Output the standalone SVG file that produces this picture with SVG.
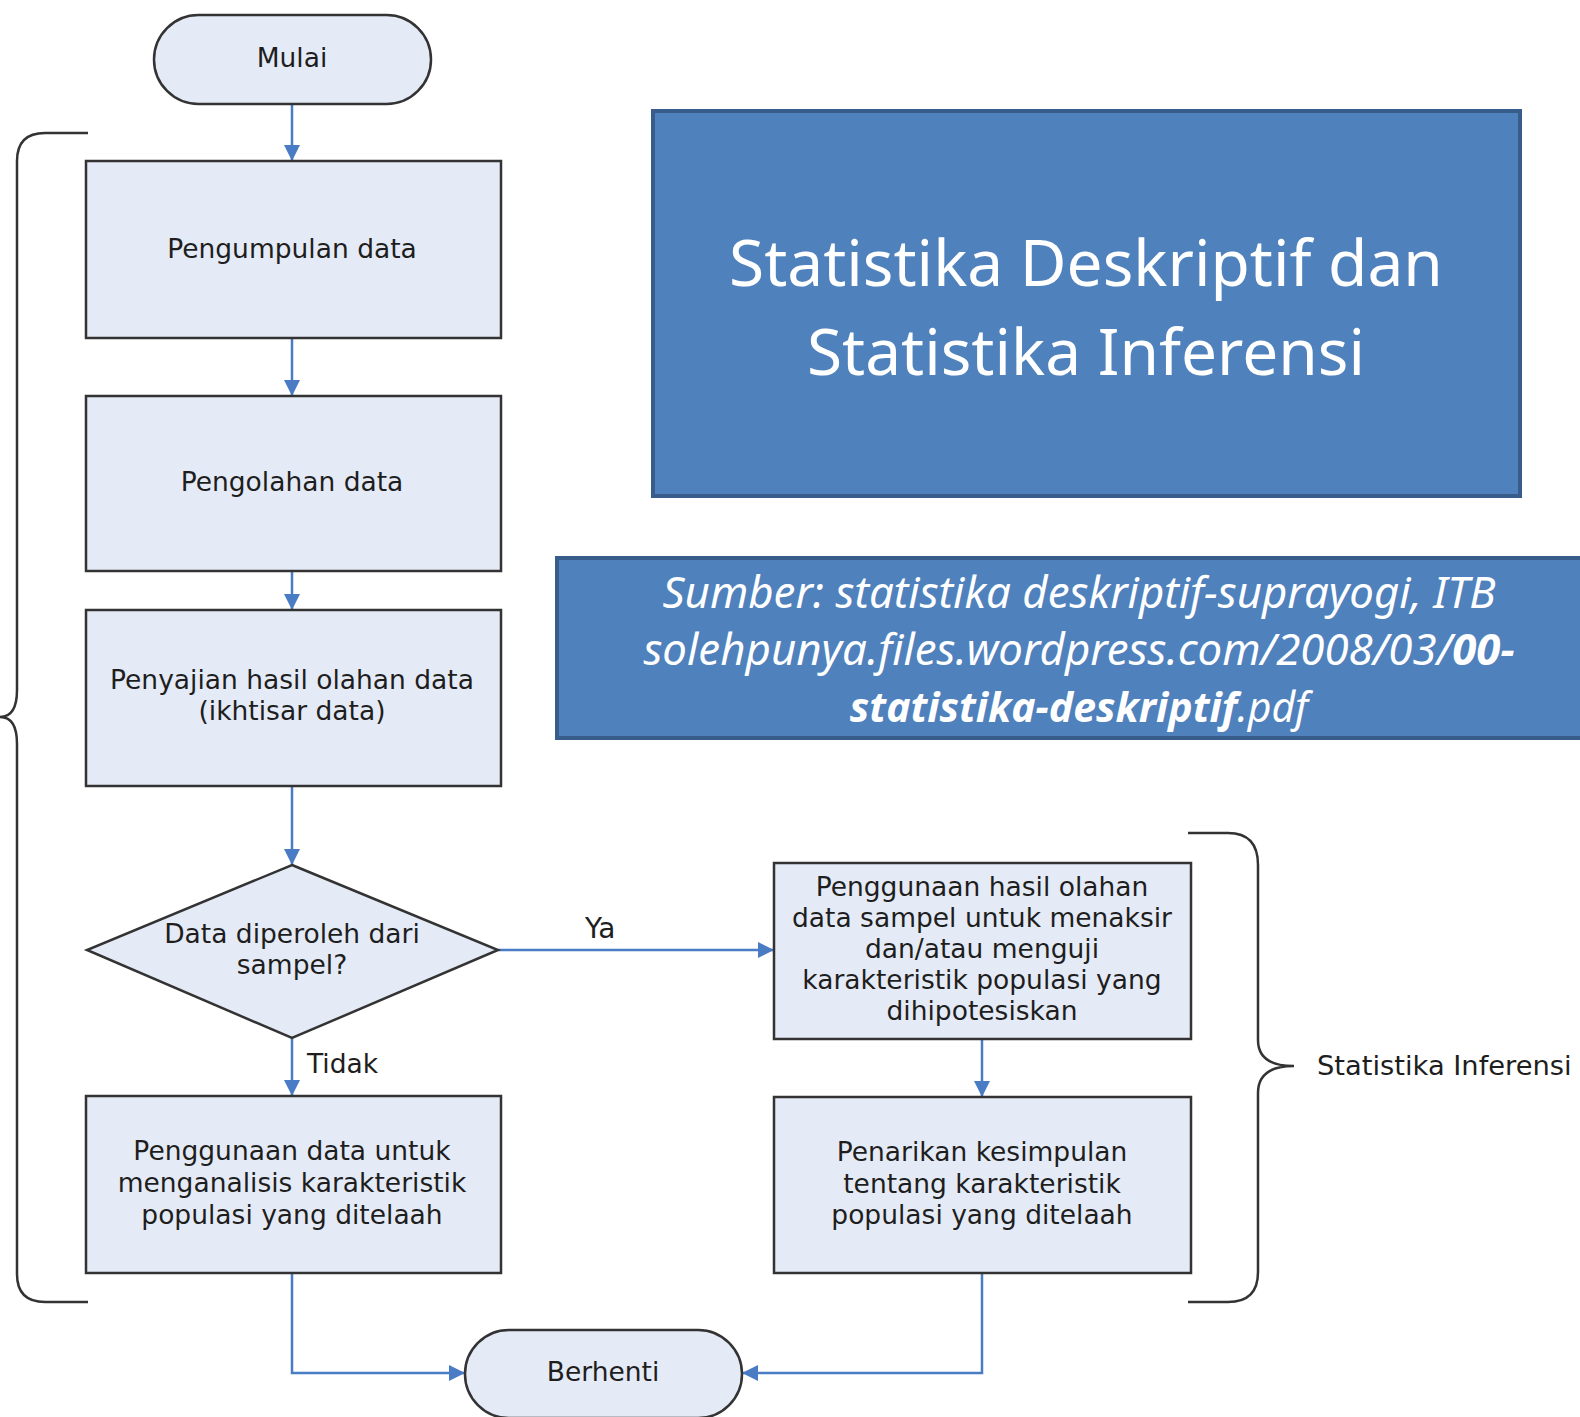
<svg xmlns="http://www.w3.org/2000/svg" width="1580" height="1417" viewBox="0 0 1580 1417">
<style>
.node{fill:#E5EBF6;stroke:#333;stroke-width:2.5}
.t{font-family:"DejaVu Sans",Verdana,sans-serif;font-size:26.5px;fill:#1e1e1e;text-anchor:middle}
.lbl{font-family:"DejaVu Sans",Verdana,sans-serif;font-size:26.5px;fill:#1e1e1e}
.conn{fill:none;stroke:#4A7CC6;stroke-width:2.5}
.brace{fill:none;stroke:#333;stroke-width:2.5}
.blue{fill:#4F81BD;stroke:#385D8A;stroke-width:4}
.title{font-family:"Noto Sans","Open Sans",sans-serif;font-size:64px;fill:#fff;text-anchor:middle}
.src{font-family:"Noto Sans","Open Sans",sans-serif;font-size:43.8px;font-style:italic;fill:#fff;text-anchor:middle}
</style>
<defs>
<marker id="arr" markerUnits="userSpaceOnUse" markerWidth="17" markerHeight="17" refX="16" refY="8" orient="auto">
<path d="M0,0 L16,8 L0,16 z" fill="#4A7CC6"/>
</marker>
</defs>
<rect width="1580" height="1417" fill="#fff"/>

<g id="braces">
<path class="brace" d="M88 133 H45 Q17 133 17 161 V690 Q17 717 0 717 Q17 717 17 744 V1274 Q17 1302 45 1302 H88"/>
<path class="brace" d="M1188 833 H1228 Q1258 833 1258 865 V1040 Q1258 1066 1294 1066 Q1258 1066 1258 1093 V1272 Q1258 1302 1228 1302 H1188"/>
</g>

<g id="connectors">
<line class="conn" x1="292" y1="104" x2="292" y2="161" marker-end="url(#arr)"/>
<line class="conn" x1="292" y1="338" x2="292" y2="396" marker-end="url(#arr)"/>
<line class="conn" x1="292" y1="571" x2="292" y2="610" marker-end="url(#arr)"/>
<line class="conn" x1="292" y1="786" x2="292" y2="865" marker-end="url(#arr)"/>
<line class="conn" x1="292" y1="1038" x2="292" y2="1096" marker-end="url(#arr)"/>
<line class="conn" x1="498" y1="950" x2="774" y2="950" marker-end="url(#arr)"/>
<line class="conn" x1="982" y1="1039" x2="982" y2="1097" marker-end="url(#arr)"/>
<path class="conn" d="M292 1273 V1373 H465" marker-end="url(#arr)"/>
<path class="conn" d="M982 1273 V1373 H742" marker-end="url(#arr)"/>
<text class="lbl" x="585" y="938" style="font-size:28px">Ya</text>
<text class="lbl" x="307" y="1073">Tidak</text>
</g>

<g id="mulai">
<rect class="node" x="154" y="15" width="277" height="89" rx="44.5"/>
<text class="t" x="292" y="67">Mulai</text>
</g>
<g id="pengumpulan">
<rect class="node" x="86" y="161" width="415" height="177"/>
<text class="t" x="292" y="258">Pengumpulan data</text>
</g>
<g id="pengolahan">
<rect class="node" x="86" y="396" width="415" height="175"/>
<text class="t" x="292" y="491">Pengolahan data</text>
</g>
<g id="penyajian">
<rect class="node" x="86" y="610" width="415" height="176"/>
<text class="t" x="292" y="689">Penyajian hasil olahan data</text>
<text class="t" x="292" y="720">(ikhtisar data)</text>
</g>
<g id="keputusan">
<polygon class="node" points="292,865 498,950 292,1038 87,950"/>
<text class="t" x="292" y="943">Data diperoleh dari</text>
<text class="t" x="292" y="974">sampel?</text>
</g>
<g id="deskriptif-analisis">
<rect class="node" x="86" y="1096" width="415" height="177"/>
<text class="t" x="292" y="1160">Penggunaan data untuk</text>
<text class="t" x="292" y="1192">menganalisis karakteristik</text>
<text class="t" x="292" y="1224">populasi yang ditelaah</text>
</g>
<g id="inferensi-uji">
<rect class="node" x="774" y="863" width="417" height="176"/>
<text class="t" x="982" y="896">Penggunaan hasil olahan</text>
<text class="t" x="982" y="927">data sampel untuk menaksir</text>
<text class="t" x="982" y="958">dan/atau menguji</text>
<text class="t" x="982" y="989">karakteristik populasi yang</text>
<text class="t" x="982" y="1020">dihipotesiskan</text>
</g>
<g id="kesimpulan">
<rect class="node" x="774" y="1097" width="417" height="176"/>
<text class="t" x="982" y="1161">Penarikan kesimpulan</text>
<text class="t" x="982" y="1193">tentang karakteristik</text>
<text class="t" x="982" y="1224">populasi yang ditelaah</text>
</g>
<g id="berhenti">
<rect class="node" x="465" y="1330" width="277" height="88" rx="44"/>
<text class="t" x="603" y="1381">Berhenti</text>
</g>
<g id="label-inferensi">
<text class="lbl" x="1317" y="1075" style="font-size:27.3px">Statistika Inferensi</text>
</g>

<g id="judul">
<rect class="blue" x="653" y="111" width="867" height="385"/>
<text class="title" x="1086" y="286">Statistika Deskriptif dan</text>
<text class="title" x="1086" y="375">Statistika Inferensi</text>
</g>
<g id="sumber">
<rect class="blue" x="557" y="558" width="1050" height="180"/>
<text class="src" x="1079" y="608">Sumber: statistika deskriptif-suprayogi, ITB</text>
<text class="src" x="1079" y="665">solehpunya.files.wordpress.com/2008/03/<tspan font-weight="bold">00-</tspan></text>
<text class="src" x="1079" y="722" style="font-size:41px"><tspan font-weight="bold">statistika-deskriptif</tspan>.pdf</text>
</g>
</svg>
